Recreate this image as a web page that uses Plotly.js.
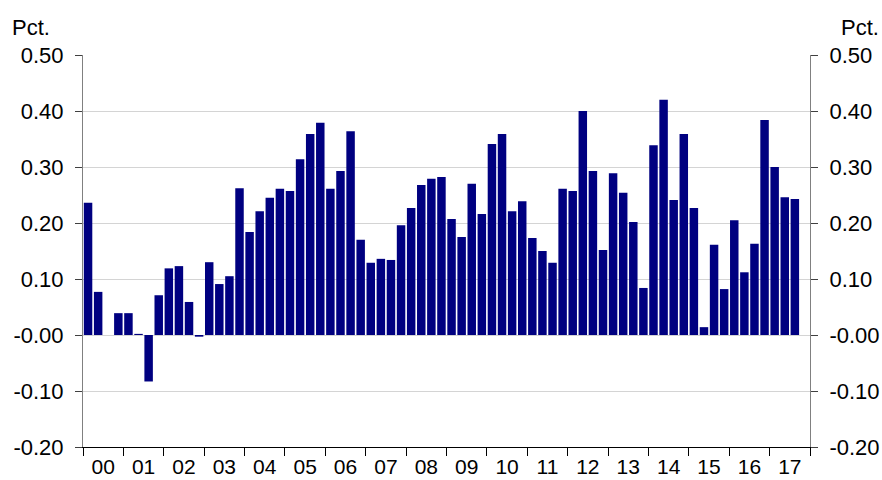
<!DOCTYPE html>
<html>
<head>
<meta charset="utf-8">
<script src="https://cdn.plot.ly/plotly-3.0.1.min.js"></script>
<style>html,body{margin:0;padding:0;background:#fff;}#chart{width:882px;height:480px;}</style>
</head>
<body>
<div id="chart"></div>
<script>
// Quarterly categories 2000Q1 .. 2017Q4
var years = ['00','01','02','03','04','05','06','07','08','09','10','11','12','13','14','15','16','17'];
var quarters = [];
years.forEach(function(y){ for (var q = 1; q <= 4; q++) quarters.push('20' + y + 'Q' + q); });

// Values (pct.)
var values = [
  0.236, 0.077, 0.000, 0.039,
  0.039, 0.002, -0.083, 0.071,
  0.119, 0.123, 0.059, -0.003,
  0.130, 0.091, 0.105, 0.262,
  0.184, 0.221, 0.245, 0.261,
  0.257, 0.314, 0.359, 0.379,
  0.261, 0.293, 0.364, 0.170,
  0.129, 0.136, 0.134, 0.196,
  0.227, 0.268, 0.279, 0.282,
  0.207, 0.175, 0.270, 0.216,
  0.341, 0.359, 0.221, 0.239,
  0.173, 0.150, 0.129, 0.261,
  0.257, 0.400, 0.293, 0.152,
  0.289, 0.254, 0.202, 0.084,
  0.339, 0.420, 0.241, 0.359,
  0.227, 0.014, 0.161, 0.082,
  0.205, 0.112, 0.163, 0.384,
  0.300, 0.246, 0.243, null
];

// Y tick labels
var yTickVals = [-0.2, -0.1, 0, 0.1, 0.2, 0.3, 0.4, 0.5];
var yTickText = ['-0.20', '-0.10', '-0.00', '0.10', '0.20', '0.30', '0.40', '0.50'];

var xIdx = quarters.map(function(q, i){ return i; });
var yearCenters = years.map(function(y, i){ return i * 4 + 1.5; });

var font = {family: 'Liberation Sans, Arial, sans-serif', size: 22, color: '#000'};
var xFont = {family: 'Liberation Sans, Arial, sans-serif', size: 21, color: '#000'};

var trace = {
  type: 'bar',
  x: xIdx,
  y: values,
  hovertext: quarters,
  hoverinfo: 'text+y',
  textposition: 'none',
  marker: {color: '#000080', line: {width: 0}},
  showlegend: false
};

var yaxisBase = {
  range: [-0.2, 0.5],
  tickvals: yTickVals,
  ticktext: yTickText,
  showgrid: true,
  gridcolor: '#d4d4d4',
  gridwidth: 1,
  zeroline: false,
  showline: true,
  linecolor: '#808080',
  linewidth: 1,
  ticks: 'outside',
  ticklen: 7,
  tickcolor: '#404040',
  tickfont: font,
  ticklabelstandoff: 7,
  fixedrange: true
};

var layout = {
  width: 882,
  height: 480,
  margin: {l: 83, r: 72, t: 55, b: 33, pad: 0},
  paper_bgcolor: '#fff',
  plot_bgcolor: '#fff',
  font: font,
  bargap: 0.16,
  xaxis: {
    range: [-0.5, 71.5],
    tickvals: yearCenters,
    ticktext: years,
    ticks: '',
    showgrid: false,
    zeroline: false,
    showline: true,
    linecolor: '#000',
    linewidth: 1,
    tickfont: xFont,
    ticklabelstandoff: 1,
    minor: {tick0: -0.5, dtick: 4, ticks: 'outside', ticklen: 8, tickcolor: '#000', showgrid: false},
    fixedrange: true
  },
  yaxis: Object.assign({}, yaxisBase, {side: 'left'}),
  yaxis2: Object.assign({}, yaxisBase, {side: 'right', overlaying: 'y', anchor: 'x', showgrid: false}),
  annotations: [
    {text: 'Pct.', xref: 'paper', yref: 'paper', x: -0.101, y: 1.071, xanchor: 'left', yanchor: 'middle', showarrow: false, font: font},
    {text: 'Pct.', xref: 'paper', yref: 'paper', x: 1.098, y: 1.071, xanchor: 'right', yanchor: 'middle', showarrow: false, font: font}
  ]
};

var ghost = {type: 'scatter', x: [0], y: [0], yaxis: 'y2', mode: 'markers', marker: {opacity: 0}, hoverinfo: 'skip', showlegend: false};

Plotly.newPlot('chart', [trace, ghost], layout, {staticPlot: true, displayModeBar: false});
</script>
</body>
</html>
